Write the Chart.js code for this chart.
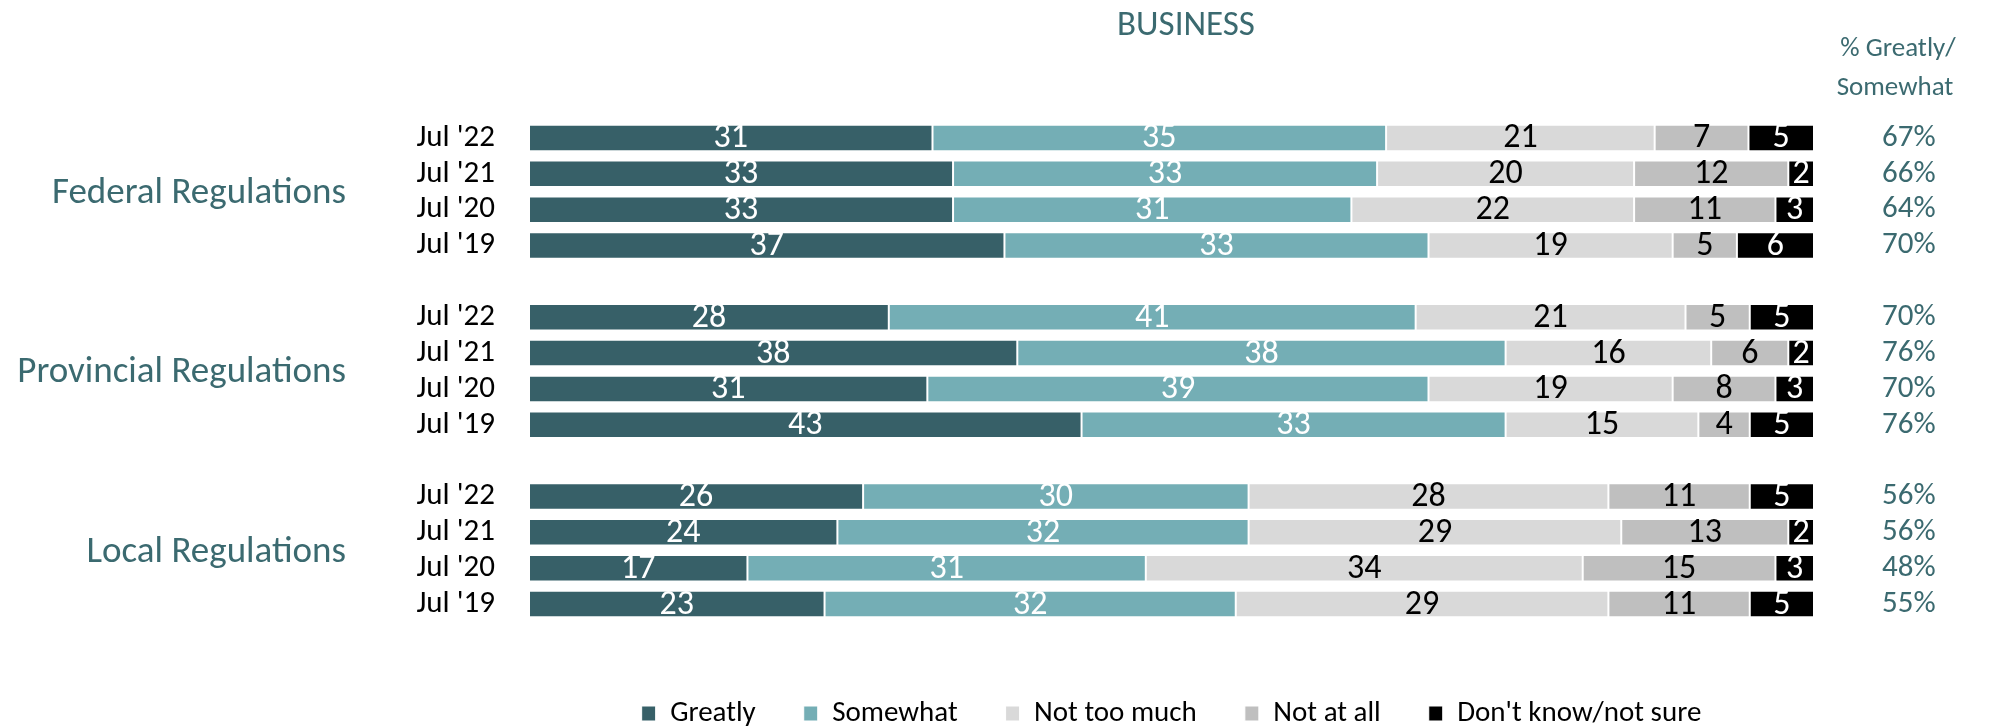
<!DOCTYPE html>
<html>
<head>
<meta charset="utf-8">
<script src="https://cdn.jsdelivr.net/npm/chart.js@4.4.0/dist/chart.umd.min.js"></script>
<style>
  html, body { margin: 0; padding: 0; background: #fff; }
</style>
</head>
<body>
<canvas id="myChart" width="1991" height="727"></canvas>
<script>
// rows top to bottom, blank rows separate the three groups
const rowLabels = ["Jul '22", "Jul '21", "Jul '20", "Jul '19", "", "Jul '22", "Jul '21", "Jul '20", "Jul '19", "", "Jul '22", "Jul '21", "Jul '20", "Jul '19"];
const greatly    = [31.4, 33, 33, 37, null, 28, 38, 31, 43, null, 26, 24, 17, 23];
const somewhat   = [35.3, 33, 31, 33, null, 41, 38, 39, 33, null, 30, 32, 31, 32];
const notTooMuch = [20.9, 20, 22, 19, null, 21, 16, 19, 15, null, 28, 29, 34, 29];
const notAtAll   = [7.3, 12, 11, 5, null, 5, 6, 8, 4, null, 11, 13, 15, 11];
const dontKnow   = [5.1, 2, 3, 6, null, 5, 2, 3, 5, null, 5, 2, 3, 5];
const pctGreatlySomewhat = ['67%', '66%', '64%', '70%', '', '70%', '76%', '70%', '76%', '', '56%', '56%', '48%', '55%'];
const groupNames = ['Federal Regulations', 'Provincial Regulations', 'Local Regulations'];
const groupRows = [[0, 3], [5, 8], [10, 13]];

const FONT = "Carlito, Lato, 'Open Sans', sans-serif";
const TEAL = '#3b6a70';

const datasets = [
  { label: 'Greatly', data: greatly, backgroundColor: '#376068', labelColor: '#fff' },
  { label: 'Somewhat', data: somewhat, backgroundColor: '#74aeb5', labelColor: '#fff' },
  { label: 'Not too much', data: notTooMuch, backgroundColor: '#d9d9d9', labelColor: '#000' },
  { label: 'Not at all', data: notAtAll, backgroundColor: '#bfbfbf', labelColor: '#000' },
  { label: "Don't know/not sure", data: dontKnow, backgroundColor: '#000000', labelColor: '#fff' }
].map(d => Object.assign(d, {
  borderColor: '#ffffff',
  borderWidth: 1,
  borderSkipped: false,
  barPercentage: 0.74,
  categoryPercentage: 1
}));

const extras = {
  id: 'extras',
  afterDatasetsDraw(chart) {
    const ctx = chart.ctx;
    ctx.save();
    ctx.textAlign = 'center';
    ctx.textBaseline = 'middle';
    ctx.font = '34px ' + FONT;
    chart.data.datasets.forEach((ds, i) => {
      chart.getDatasetMeta(i).data.forEach((bar, j) => {
        const v = ds.data[j];
        if (v == null) return;
        ctx.fillStyle = ds.labelColor;
        ctx.fillText(Math.round(v), (bar.x + bar.base) / 2, bar.y + 1);
      });
    });

    // group names on the left
    const y = chart.scales.y;
    ctx.fillStyle = TEAL;
    ctx.textAlign = 'right';
    ctx.font = '37px ' + FONT;
    groupNames.forEach((name, k) => {
      const mid = (y.getPixelForValue(groupRows[k][0]) + y.getPixelForValue(groupRows[k][1])) / 2;
      ctx.fillText(name, 346, mid + 2);
    });

    // title and column header
    ctx.textAlign = 'center';
    ctx.font = '35px ' + FONT;
    ctx.fillText('BUSINESS', 1186, 26);
    ctx.font = '27px ' + FONT;
    ctx.fillText('% Greatly/', 1898, 49);
    ctx.fillText('Somewhat', 1895, 88);
    ctx.restore();
  }
};

const ctx = document.getElementById('myChart').getContext('2d');
const myChart = new Chart(ctx, {
  type: 'bar',
  data: { labels: rowLabels, datasets: datasets },
  options: {
    indexAxis: 'y',
    responsive: false,
    animation: false,
    layout: { padding: { top: 120, bottom: -11, left: 0, right: 0 } },
    scales: {
      x: {
        stacked: true, min: 0, max: 100,
        grid: { display: false }, border: { display: false },
        ticks: { display: false },
        afterFit: s => { s.height = 29; }
      },
      y: {
        stacked: true,
        grid: { display: false, drawTicks: false }, border: { display: false },
        ticks: { autoSkip: false, padding: 34, color: '#000', font: { family: FONT, size: 31 } },
        afterFit: s => { s.width = 529; }
      },
      y2: {
        type: 'category', position: 'right', labels: pctGreatlySomewhat,
        grid: { display: false, drawTicks: false }, border: { display: false },
        ticks: { autoSkip: false, padding: 68, color: TEAL, font: { family: FONT, size: 31 } },
        afterFit: s => { s.width = 177; }
      }
    },
    plugins: {
      tooltip: { enabled: false },
      legend: {
        position: 'bottom',
        fullSize: false,
        labels: { boxWidth: 14, boxHeight: 15, padding: 48, color: '#000', font: { family: FONT, size: 29 } }
      }
    }
  },
  plugins: [extras]
});
</script>
</body>
</html>
